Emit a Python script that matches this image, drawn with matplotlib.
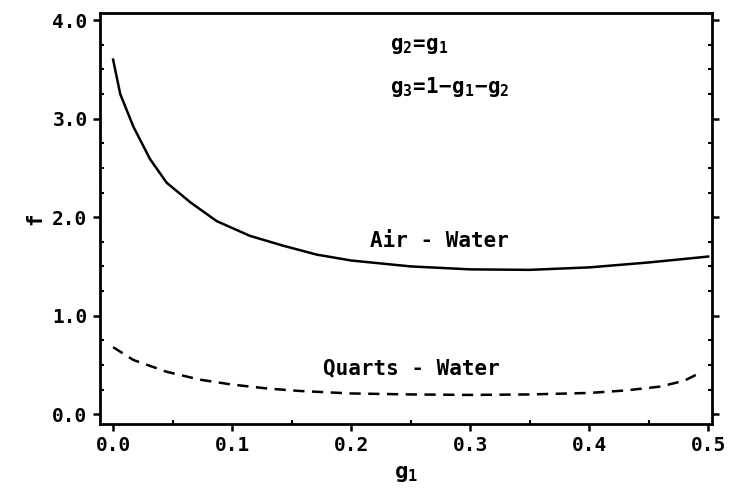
import matplotlib
matplotlib.use("Agg")
import matplotlib.pyplot as plt
from matplotlib.ticker import MultipleLocator

# --- data ---
g1_air = [0.0, 0.006, 0.017, 0.031, 0.045, 0.065, 0.087, 0.115, 0.143, 0.171,
          0.2, 0.25, 0.3, 0.35, 0.4, 0.45, 0.5]
f_air = [3.60, 3.25, 2.92, 2.59, 2.35, 2.15, 1.96, 1.81, 1.71, 1.62,
         1.56, 1.50, 1.47, 1.465, 1.49, 1.54, 1.60]

g1_quartz = [0.0, 0.017, 0.045, 0.073, 0.1, 0.13, 0.157, 0.2, 0.25, 0.3,
             0.35, 0.4, 0.43, 0.46, 0.48, 0.495]
f_quartz = [0.68, 0.55, 0.43, 0.35, 0.30, 0.26, 0.235, 0.21, 0.20, 0.195,
            0.20, 0.215, 0.24, 0.28, 0.34, 0.43]

x_ticks = [0.0, 0.1, 0.2, 0.3, 0.4, 0.5]
y_ticks = [0.0, 1.0, 2.0, 3.0, 4.0]

FONT = "DejaVu Sans Mono"
plt.rcParams["mathtext.fontset"] = "custom"
plt.rcParams["mathtext.rm"] = "DejaVu Sans Mono:bold"
plt.rcParams["mathtext.it"] = "DejaVu Sans Mono:bold"
plt.rcParams["mathtext.bf"] = "DejaVu Sans Mono:bold"

fig = plt.figure(figsize=(7.3, 4.93), dpi=100)
ax = fig.add_axes([0.137, 0.14, 0.838, 0.833])

ax.plot(g1_air, f_air, color="black", lw=1.8)
ax.plot(g1_quartz, f_quartz, color="black", lw=1.8, dashes=(4.5, 3))

ax.set_xlim(-0.011, 0.503)
ax.set_ylim(-0.1, 4.07)

ax.set_xticks(x_ticks)
ax.set_xticklabels([f"{v:.1f}" for v in x_ticks])
ax.set_yticks(y_ticks)
ax.set_yticklabels([f"{v:.1f}" for v in y_ticks])
ax.xaxis.set_minor_locator(MultipleLocator(0.05))
ax.yaxis.set_minor_locator(MultipleLocator(0.25))

ax.tick_params(which="major", direction="out", length=5, width=1.8,
               labelsize=14, pad=4)
ax.tick_params(which="minor", direction="in", length=3, width=1.5)
ax.tick_params(axis="y", which="both", right=True)
for lbl in ax.get_xticklabels() + ax.get_yticklabels():
    lbl.set_fontfamily(FONT)
    lbl.set_fontweight("bold")

for sp in ax.spines.values():
    sp.set_linewidth(2.0)

ax.set_xlabel(r"$\mathrm{g_1}$", fontsize=16, labelpad=6)
ax.set_ylabel("f", fontsize=15, fontfamily=FONT, fontweight="bold", labelpad=5)

txt = dict(fontsize=15, color="black")
ax.text(0.233, 3.74, r"$\mathrm{g_2\!=\!g_1}$", va="center", ha="left", **txt)
ax.text(0.233, 3.32, r"$\mathrm{g_3\!=\!1\!-\!g_1\!-\!g_2}$", va="center", ha="left", **txt)
ax.text(0.216, 1.76, "Air - Water", va="center", ha="left",
        fontfamily=FONT, fontweight="bold", **txt)
ax.text(0.176, 0.46, "Quarts - Water", va="center", ha="left",
        fontfamily=FONT, fontweight="bold", **txt)

fig.savefig("out.png", dpi=100)
